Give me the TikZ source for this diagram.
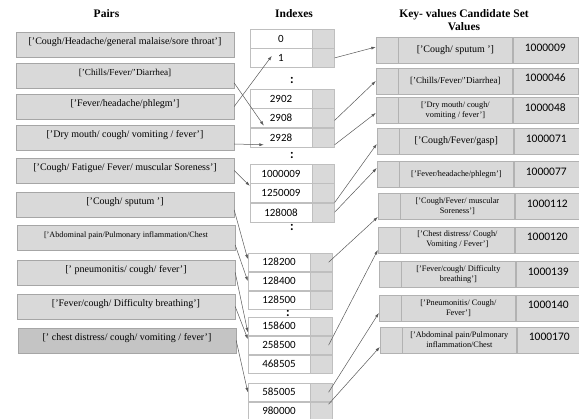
\documentclass[tikz,border=0pt]{standalone}
\usepackage{fontspec}
\setmainfont{Liberation Serif}
\newfontfamily\numfont{Carlito}
\usetikzlibrary{positioning, arrows.meta}

\begin{document}
\begin{tikzpicture}[x=1pt, y=-1pt, font=\fontsize{10}{11}\selectfont,
  pairbox/.style={draw=black!35, fill=black!15, minimum width=218pt, minimum height=25pt, inner ysep=2pt, text height=11pt, text depth=10pt},
  idxcell/.style={draw=black!25, fill=white, minimum width=62pt, minimum height=19pt, inner sep=0pt, font=\numfont\fontsize{11}{12}\selectfont},
  idxgray/.style={draw=black!25, fill=black!15, minimum width=22pt, minimum height=19pt, inner sep=0pt},
  kvkey/.style={draw=black!30, fill=black!15, minimum width=22pt, minimum height=26pt, inner sep=0pt},
  kvtext/.style={draw=black!30, fill=black!15, minimum width=114pt, minimum height=26pt, inner sep=1pt, align=center, font=\fontsize{8.3}{10}\selectfont},
  kvnum/.style={draw=black!30, fill=black!15, minimum width=65pt, minimum height=26pt, inner ysep=2pt, text height=12pt, text depth=10pt, font=\numfont\fontsize{11.5}{12}\selectfont},
  link/.style={-{Latex[length=4.5pt, width=3pt]}, black!65, line width=0.5pt},
  title/.style={font=\fontsize{11.5}{13}\selectfont\bfseries, align=center},
  dots/.style={font=\numfont\fontsize{13}{13}\selectfont\bfseries, inner sep=0pt}]
\useasboundingbox (0,0) rectangle (579,419);

% Titles
\node[title] (tpairs) at (106.5,14) {Pairs};
\node[title] (tidx) at (294,14) {Indexes};
\node[title] (tkv) at (464,20.5) {Key- values Candidate Set\\Values};

% Pairs
\node[pairbox] (p1) at (125,44.5) {['Cough/Headache/general malaise/sore throat']};
\node[pairbox, font=\fontsize{9.2}{10}\selectfont] (p2) at (125,75.5) {['Chills/Fever/'Diarrhea]};
\node[pairbox] (p3) at (125,106.5) {['Fever/headache/phlegm']};
\node[pairbox] (p4) at (125,137.5) {['Dry mouth/ cough/ vomiting / fever']};
\node[pairbox] (p5) at (125,170.5) {['Cough/ Fatigue/ Fever/ muscular Soreness']};
\node[pairbox] (p6) at (125,204.5) {['Cough/ sputum ']};
\node[pairbox, font=\fontsize{8.2}{9}\selectfont] (p7) at (126,237.5) {['Abdominal pain/Pulmonary inflammation/Chest};
\node[pairbox] (p8) at (126,272.5) {[' pneumonitis/ cough/ fever']};
\node[pairbox] (p9) at (126,306.5) {['Fever/cough/ Difficulty breathing']};
\node[pairbox, fill=black!23] (p10) at (127,340.5) {[' chest distress/ cough/ vomiting / fever']};

% Indexes
\node[idxcell] (i0) at (281,38.5) {0};
\node[idxgray, right=0pt of i0] (g0) {};
\node[idxcell, below=0pt of i0] (i1) {1};
\node[idxgray, right=0pt of i1] (g1) {};
\node[dots] (c1) at (292,80) {:};

\node[idxcell] (i2902) at (281,98.5) {2902};
\node[idxgray, right=0pt of i2902] (g2902) {};
\node[idxcell, below=0pt of i2902] (i2908) {2908};
\node[idxgray, right=0pt of i2908] (g2908) {};
\node[idxcell, below=0pt of i2908] (i2928) {2928};
\node[idxgray, right=0pt of i2928] (g2928) {};
\node[dots] (c2) at (292,155) {:};

\node[idxcell] (i1000009) at (281,173.5) {1000009};
\node[idxgray, right=0pt of i1000009] (g1000009) {};
\node[idxcell, below=0pt of i1000009] (i1250009) {1250009};
\node[idxgray, right=0pt of i1250009] (g1250009) {};
\node[idxcell, below=0pt of i1250009] (i128008) {128008};
\node[idxgray, right=0pt of i128008] (g128008) {};
\node[dots] (c3) at (292,227) {:};

\node[idxcell, minimum height=18.5pt] (i128200) at (279,262.25) {128200};
\node[idxgray, minimum height=18.5pt, right=0pt of i128200] (g128200) {};
\node[idxcell, minimum height=18.5pt, below=0pt of i128200] (i128400) {128400};
\node[idxgray, minimum height=18.5pt, right=0pt of i128400] (g128400) {};
\node[idxcell, minimum height=18.5pt, below=0pt of i128400] (i128500) {128500};
\node[idxgray, minimum height=18.5pt, right=0pt of i128500] (g128500) {};
\node[dots] (c4) at (288,313) {:};

\node[idxcell, minimum height=18.5pt] (i158600) at (279,326.25) {158600};
\node[idxgray, minimum height=18.5pt, right=0pt of i158600] (g158600) {};
\node[idxcell, minimum height=18.5pt, below=0pt of i158600] (i258500) {258500};
\node[idxgray, minimum height=18.5pt, right=0pt of i258500] (g258500) {};
\node[idxcell, minimum height=18.5pt, below=0pt of i258500] (i468505) {468505};
\node[idxgray, minimum height=18.5pt, right=0pt of i468505] (g468505) {};

\node[idxcell, minimum height=18.5pt] (i585005) at (279,392.25) {585005};
\node[idxgray, minimum height=18.5pt, right=0pt of i585005] (g585005) {};
\node[idxcell, minimum height=18.5pt, below=0pt of i585005] (i980000) {980000};
\node[idxgray, minimum height=18.5pt, right=0pt of i980000] (g980000) {};

% Key-value rows
\node[kvkey] (k1) at (387,50.5) {};
\node[kvtext, right=0pt of k1, font=\fontsize{10}{11}\selectfont] (t1) {['Cough/ sputum ']};
\node[kvnum, right=0pt of t1] (n1) {1000009};
\node[kvkey] (k2) at (387,81) {};
\node[kvtext, right=0pt of k2, font=\fontsize{9}{10}\selectfont] (t2) {['Chills/Fever/'Diarrhea]};
\node[kvnum, right=0pt of t2] (n2) {1000046};
\node[kvkey] (k3) at (387,110.5) {};
\node[kvtext, right=0pt of k3] (t3) {['Dry mouth/ cough/\\ vomiting / fever']};
\node[kvnum, right=0pt of t3] (n3) {1000048};
\node[kvkey] (k4) at (388,141.5) {};
\node[kvtext, right=0pt of k4, font=\fontsize{10}{11}\selectfont] (t4) {['Cough/Fever/gasp]};
\node[kvnum, right=0pt of t4] (n4) {1000071};
\node[kvkey] (k5) at (388,174.5) {};
\node[kvtext, right=0pt of k5] (t5) {['Fever/headache/phlegm']};
\node[kvnum, right=0pt of t5] (n5) {1000077};
\node[kvkey] (k6) at (389,206.5) {};
\node[kvtext, right=0pt of k6] (t6) {['Cough/Fever/ muscular\\ Soreness']};
\node[kvnum, right=0pt of t6] (n6) {1000112};
\node[kvkey] (k7) at (389,240) {};
\node[kvtext, right=0pt of k7] (t7) {['Chest distress/ Cough/\\ Vomiting / Fever']};
\node[kvnum, right=0pt of t7] (n7) {1000120};
\node[kvkey] (k8) at (390,274.5) {};
\node[kvtext, right=0pt of k8] (t8) {['Fever/cough/ Difficulty\\ breathing']};
\node[kvnum, right=0pt of t8] (n8) {1000139};
\node[kvkey] (k9) at (390,308) {};
\node[kvtext, right=0pt of k9] (t9) {['Pneumonitis/ Cough/\\ Fever']};
\node[kvnum, right=0pt of t9] (n9) {1000140};
\node[kvkey] (k10) at (391,340) {};
\node[kvtext, right=0pt of k10] (t10) {['Abdominal pain/Pulmonary\\ inflammation/Chest};
\node[kvnum, right=0pt of t10] (n10) {1000170};

% Pairs -> indexes
\draw[link] ([yshift=-7.5pt]p2.east) -- ([xshift=14pt, yshift=2pt]i2908.south west);
\draw[link] (p3.east) -- ([xshift=22pt, yshift=2pt]i1.west);
\draw[link] ([yshift=-6.5pt]p4.east) -- ([xshift=14pt, yshift=-7.5pt]i2928.west);
\draw[link] (p5.east) -- ([yshift=7pt]i1250009.west);
\draw[link] ([yshift=-5.5pt]p6.east) -- ([yshift=3pt]i128200.west);
\draw[link] ([yshift=-7.5pt]p7.east) -- (i128400.west);
\draw[link] (p8.east) -- ([yshift=-6pt]i158600.west);
\draw[link] (p9.east) -- ([yshift=6pt]i258500.west);
\draw[link] (p10.east) -- (i585005.west);

% Indexes -> key-value rows
\draw[link] (g1.east) -- ([yshift=3.5pt]k1.west);
\draw[link] ([yshift=-2.5pt]g2908.east) -- (k2.west);
\draw[link] ([yshift=-7.5pt]g2928.east) -- ([yshift=-2.5pt]k3.west);
\draw[link] (g128008.north east) -- ([yshift=-2.5pt]k4.west);
\draw[link] (g128008.east) -- ([yshift=6.5pt]k5.west);
\draw[link] ([xshift=-4pt]g128200.east) -- ([yshift=-10.5pt]k6.west);
\draw[link] ([xshift=-4pt]g258500.east) -- ([yshift=-10pt]k7.west);
\draw[link] ([xshift=-4pt]g585005.east) -- ([yshift=-5pt]k9.west);
\draw[link] ([xshift=-4pt, yshift=7pt]g980000.east) -- ([yshift=-7pt]k10.west);
\end{tikzpicture}
\end{document}
